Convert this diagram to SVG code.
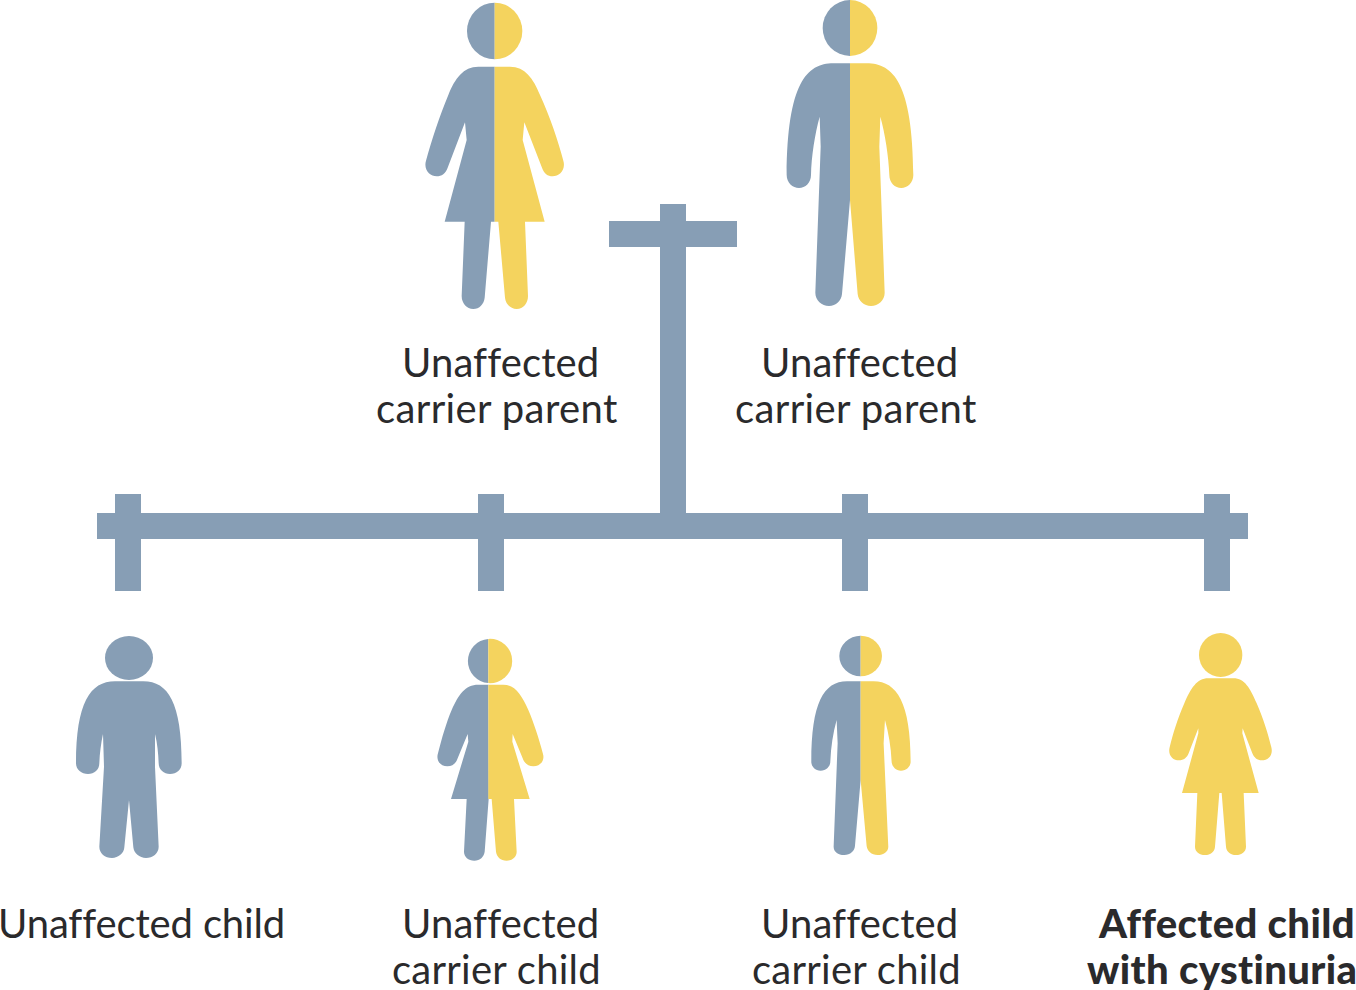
<svg xmlns="http://www.w3.org/2000/svg" width="1356" height="990" viewBox="0 0 1356 990">
<style>
.b{fill:#879eb5}
.y{fill:#f4d35e}
.t{font-family:Lato,"Liberation Sans",sans-serif;font-size:40px;fill:#2a2a2c;font-variant-ligatures:none}
.s{font-weight:900;letter-spacing:.38px}
.u{letter-spacing:.12px}
.p{letter-spacing:.38px}
.c{letter-spacing:.25px}
.n{letter-spacing:-.13px}
</style>
<rect width="1356" height="990" fill="#fff"/>
<g id="connectors" class="b">
<rect x="609" y="221" width="128" height="26"/>
<rect x="660" y="204" width="26" height="316"/>
<rect x="97" y="513" width="1151" height="26"/>
<rect x="115" y="494" width="26" height="97"/>
<rect x="478" y="494" width="26" height="97"/>
<rect x="842" y="494" width="26" height="97"/>
<rect x="1204" y="494" width="26" height="97"/>
</g>
<g id="parent-female">
<g transform="translate(410 0) scale(.33333)">
<path class="b" d="M254 8A83 85 0 0 0 254 178Z"/>
<path class="y" d="M254 8A83 85 0 0 1 254 178Z"/>
<path class="b" d="M254 200L205 200C160 200 135 235 115 285C90 345 65 420 48 482C40 510 60 529 80 529C95 529 107 520 113 503L165 367L170 420L104 665L164 665L155 888C155 910 170 927 190 927C208 927 222 912 224 893L243 665L254 665Z"/>
<path class="y" d="M254 200L300 200C345 200 370 235 390 285C420 350 445 425 460 482C468 510 448 529 428 529C413 529 402 520 396 503L343 367L338 420L404 665L345 665L354 888C354 910 340 927 320 927C302 927 287 912 285 893L265 665L254 665Z"/>
</g>
<text class="t u" x="402" y="377">Unaffected</text>
<text class="t p" x="376" y="423">carrier parent</text>
</g>
<g id="parent-male">
<g transform="translate(770 0) scale(.33333)">
<path class="b" d="M240 0A82 84 0 0 0 240 168Z"/>
<path class="y" d="M240 0A82 84 0 0 1 240 168Z"/>
<path class="b" d="M240 190L190 190C110 190 52 250 50 525C50 548 68 564 87 564C106 564 123 548 123 525C124 470 135 400 149 350L152 440L136 878C136 900 155 918 177 918C198 918 214 902 216 882L240 600Z"/>
<path class="y" d="M240 190L290 190C370 190 428 250 430 525C430 548 412 564 394 564C375 564 358 548 358 525C356 470 345 400 331 350L328 440L344 878C344 900 325 918 303 918C282 918 265 902 263 882L240 600Z"/>
</g>
<text class="t u" x="761" y="377">Unaffected</text>
<text class="t p" x="735" y="423">carrier parent</text>
</g>
<g id="child-unaffected">
<g transform="translate(60 620) scale(.33333)" class="b">
<ellipse cx="207" cy="114" rx="72" ry="66"/>
<path d="M207 184L165 184C90 184 48 250 48 430C48 450 65 462 84 462C103 462 118 450 118 430C119 400 123 370 129 342L132 440L118 680C118 700 135 714 156 714C175 714 192 700 193 682L207 540L220 682C222 700 238 714 258 714C278 714 296 700 296 680L285 440L285 342C292 370 295 400 296 430C296 450 312 462 330 462C350 462 365 450 365 430C365 250 325 184 250 184Z"/>
</g>
<text class="t n" x="-2" y="938">Unaffected child</text>
</g>
<g id="child-carrier-female">
<g transform="translate(60 620) scale(.33333)">
<path class="b" d="M1285 56.7A66.5 66.5 0 0 0 1285 189.3Z"/>
<path class="y" d="M1285 56.7A66.5 66.5 0 1 1 1285 189.3Z"/>
<path class="b" d="M1285 194L1255 194C1215 194 1195 225 1175 270C1160 305 1145 355 1134 400C1127 422 1142 439 1162 439C1178 439 1188 430 1193 415L1223 342L1225 365L1173 537L1220 537L1212 695C1212 710 1225 722 1243 722C1260 722 1272 710 1274 695L1286 537Z"/>
<path class="y" d="M1285 194L1330 194C1365 194 1385 225 1405 270C1420 305 1437 355 1449 402C1455 422 1440 439 1420 439C1405 439 1393 430 1388 415L1358 342L1357 365L1409 537L1362 537L1370 695C1370 710 1357 722 1340 722C1322 722 1310 710 1308 695L1295 537L1285 537Z"/>
</g>
<text class="t u" x="402" y="938">Unaffected</text>
<text class="t c" x="392" y="984">carrier child</text>
</g>
<g id="child-carrier-male">
<g transform="translate(800.3 620) scale(.33333)">
<path class="b" d="M181 47A64 61 0 0 0 181 169Z"/>
<path class="y" d="M181 47A64 61 0 0 1 181 169Z"/>
<path class="b" d="M181 184L140 184C70 184 33 250 33 425C33 440 45 452 61 452C77 452 90 440 90 425C92 380 98 340 109 300L112 370L100 680C100 695 113 705 132 705C150 705 163 692 164 678L181 480Z"/>
<path class="y" d="M181 184L220 184C290 184 331 250 331 425C331 440 318 452 302 452C287 452 275 440 274 425C272 380 265 340 254 300L250 370L264 680C264 695 250 705 232 705C213 705 201 692 199 678L181 480Z"/>
</g>
<text class="t u" x="761" y="938">Unaffected</text>
<text class="t c" x="752" y="984">carrier child</text>
</g>
<g id="child-affected">
<g transform="translate(800 620) scale(.33333)" class="y">
<ellipse cx="1262" cy="105" rx="65" ry="66"/>
<path d="M1225 175L1300 175C1335 175 1350 205 1370 250C1390 295 1405 345 1414 382C1420 405 1405 421 1385 421C1372 421 1362 413 1357 400L1328 325L1327 340L1376 519L1331 519L1338 680C1338 695 1325 705 1308 705C1292 705 1279 695 1278 680L1265 519L1258 519L1245 680C1244 695 1232 705 1215 705C1198 705 1185 695 1185 680L1192 519L1146 519L1195 340L1195 325L1166 400C1161 413 1151 421 1137 421C1118 421 1103 405 1109 382C1118 345 1133 295 1153 250C1173 205 1190 175 1225 175Z"/>
</g>
<text class="t s" x="1099" y="938">Affected child</text>
<text class="t s" x="1087" y="984">with cystinuria</text>
</g>
</svg>
